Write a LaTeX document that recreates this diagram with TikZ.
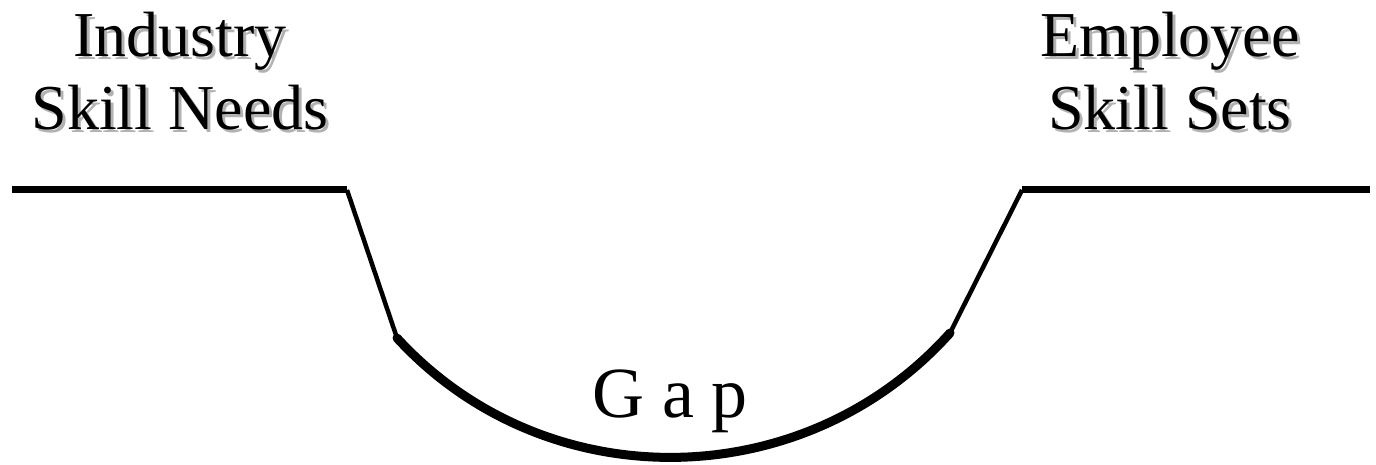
\documentclass[tikz,border=0pt]{standalone}
\usepackage{fontspec}
\setmainfont{Liberation Serif}
\begin{document}
\begin{tikzpicture}[x=1pt,y=-1pt,
  lbl/.style={align=center,font=\fontsize{64}{73}\selectfont,inner sep=0pt,anchor=base},
  shadowtxt/.style={lbl,text=black!30},
  flat/.style={line width=7pt},
  slope/.style={line width=4.5pt},
  trough/.style={line width=9pt,line cap=round}]
\useasboundingbox (0,0) rectangle (1376,465);
% shadows
\node[shadowtxt] at (183,133) {Industry\\Skill Needs};
\node[shadowtxt] at (1173,133) {Employee\\Skill Sets};
% texts
\node[lbl] (ind) at (180,130) {Industry\\Skill Needs};
\node[lbl] (emp) at (1170,130) {Employee\\Skill Sets};
\node[lbl,font=\fontsize{72}{80}\selectfont] (gap) at (670,417) {G a p};
% geometry
\coordinate (l0) at (12,190);
\coordinate (l1) at (347,190);
\coordinate (a0) at (397,338);
\coordinate (a1) at (950,333);
\coordinate (r1) at (1022,190);
\coordinate (r0) at (1370,190);
\draw[flat] (l0) -- (l1);
\draw[flat] (r1) -- (r0);
\draw[slope] (l1) -- (a0);
\draw[slope] (a1) -- (r1);
\draw[trough] (a0) .. controls (545.6,500) and (804,496) .. (a1);
\end{tikzpicture}
\end{document}
